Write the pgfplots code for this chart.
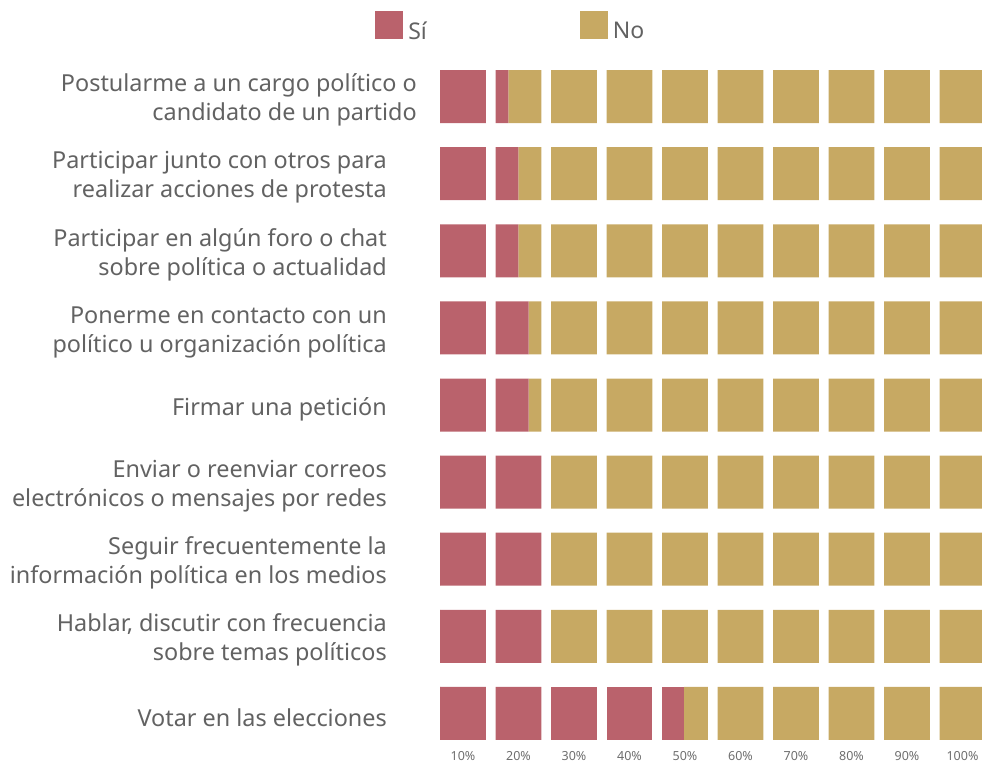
\documentclass[border=0pt]{standalone}
\usepackage{pgfplots}
\pgfplotsset{compat=1.18}
\usepackage{pgfplotstable}
\usepackage{fontspec}
\setmainfont{Noto Sans}
\definecolor{sired}{RGB}{186,98,108}
\definecolor{notan}{RGB}{199,169,99}
\definecolor{labgray}{RGB}{98,98,98}
\definecolor{tickgray}{RGB}{110,110,110}
\pgfplotstableread{
row si
0 12.8
1 15.0
2 15.0
3 17.2
4 17.2
5 20.0
6 20.0
7 20.0
8 44.8
}\datatable
\begin{document}
\begin{tikzpicture}
\path[use as bounding box] (0,0) rectangle (982pt,763pt);
\begin{axis}[
  at={(440pt,18.7pt)}, anchor=south west,
  scale only axis, width=542pt, height=678.6pt,
  xbar stacked, bar width=53pt,
  xmin=0, xmax=9.766,
  ymin=-0.4, ymax=8.4, y dir=reverse,
  axis line style={draw=none}, major tick length=0pt,
  tick style={draw=none},
  xtick={0.4144,1.4144,2.4144,3.4144,4.4144,5.4144,6.4144,7.4144,8.4144,9.4144},
  xticklabels={10\%,20\%,30\%,40\%,50\%,60\%,70\%,80\%,90\%,100\%},
  xticklabel style={font=\fontsize{12.5}{14}\selectfont, text=tickgray, anchor=base, yshift=-16.5pt},
  ytick={0,1,2,3,4,5,6,7,8},
  yticklabels={
    {\begin{tabular}{@{}r@{}}Postularme a un cargo político o\\candidato de un partido\end{tabular}\hspace*{-30pt}},
    {\begin{tabular}{@{}r@{}}Participar junto con otros para\\realizar acciones de protesta\end{tabular}},
    {\begin{tabular}{@{}r@{}}Participar en algún foro o chat\\sobre política o actualidad\end{tabular}},
    {\begin{tabular}{@{}r@{}}Ponerme en contacto con un\\político u organización política\end{tabular}},
    {Firmar una petición},
    {\begin{tabular}{@{}r@{}}Enviar o reenviar correos\\electrónicos o mensajes por redes\end{tabular}},
    {\begin{tabular}{@{}r@{}}Seguir frecuentemente la\\información política en los medios\end{tabular}},
    {\begin{tabular}{@{}r@{}}Hablar, discutir con frecuencia\\sobre temas políticos\end{tabular}},
    {Votar en las elecciones}},
  yticklabel style={font=\fontsize{23.4}{29}\selectfont, text=labgray, anchor=east, inner sep=0pt, xshift=-53pt, yshift=-4pt},
  /pgf/number format/assume math mode=true,
  legend columns=2,
  legend style={at={(axis description cs:-0.1199,1.0585)}, anchor=west, draw=none, fill=none, inner sep=0pt,
    font=\fontsize{23}{26}\selectfont, text=labgray,
    nodes={inner xsep=6pt, inner ysep=0pt},
    /tikz/every even column/.append style={column sep=147pt}},
]
\pgfplotsinvokeforeach{0,1,2,3,4,5,6,7,8,9}{
  \addplot[fill=sired, draw=none, forget plot] table[y=row, x expr={min(max(\thisrow{si}-10*#1,0),10)/10*0.8288}] {\datatable};
  \addplot[fill=notan, draw=none, forget plot] table[y=row, x expr={0.8288-min(max(\thisrow{si}-10*#1,0),10)/10*0.8288}] {\datatable};
  \addplot[fill=none, draw=none, forget plot] table[y=row, x expr={0.1712}] {\datatable};
}
\addlegendimage{legend image code/.code={\fill[sired] (0pt,-7pt) rectangle (26.7pt,19.7pt);}}
\addlegendentry{Sí}
\addlegendimage{legend image code/.code={\fill[notan] (0pt,-7pt) rectangle (26.7pt,19.7pt);}}
\addlegendentry{No}
\end{axis}
\end{tikzpicture}
\end{document}
